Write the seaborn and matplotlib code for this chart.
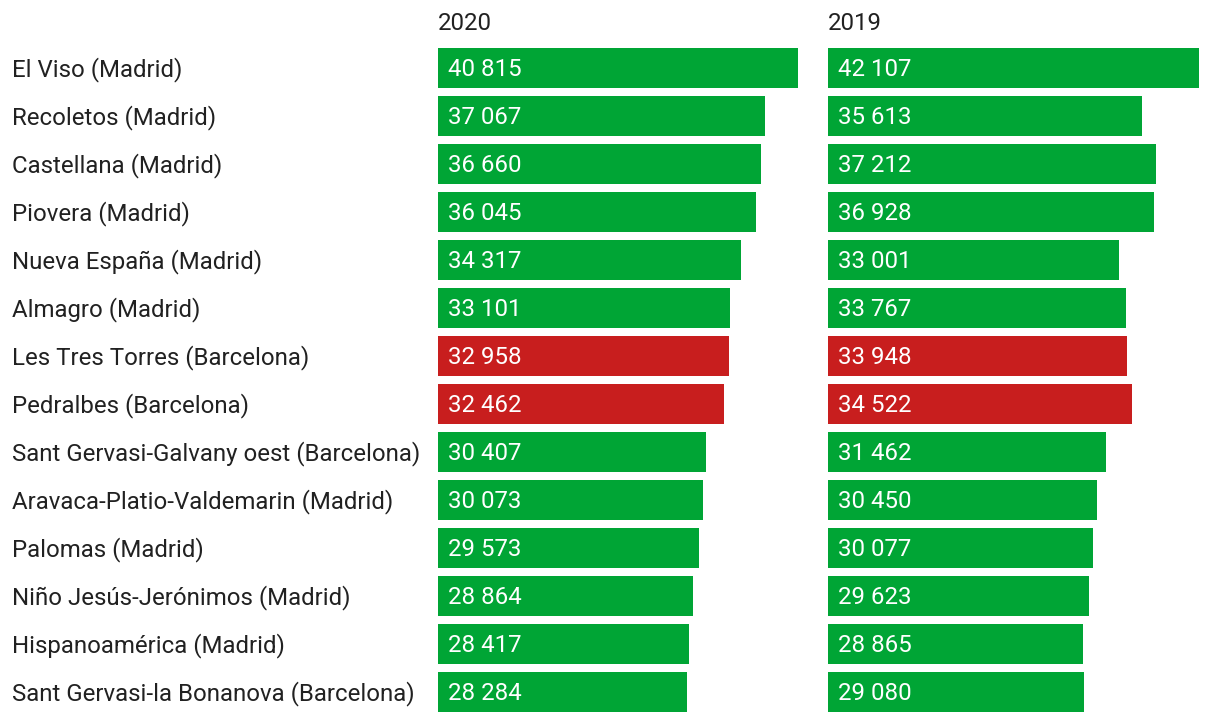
import matplotlib
matplotlib.use("Agg")
import matplotlib.pyplot as plt
import matplotlib.transforms as mtransforms
import pandas as pd
import seaborn as sns

# Datos
BARRIOS = [
    "El Viso (Madrid)",
    "Recoletos (Madrid)",
    "Castellana (Madrid)",
    "Piovera (Madrid)",
    "Nueva España (Madrid)",
    "Almagro (Madrid)",
    "Les Tres Torres (Barcelona)",
    "Pedralbes (Barcelona)",
    "Sant Gervasi-Galvany oest (Barcelona)",
    "Aravaca-Platio-Valdemarin (Madrid)",
    "Palomas (Madrid)",
    "Niño Jesús-Jerónimos (Madrid)",
    "Hispanoamérica (Madrid)",
    "Sant Gervasi-la Bonanova (Barcelona)",
]
VALORES_2020 = [40815, 37067, 36660, 36045, 34317, 33101, 32958, 32462,
                30407, 30073, 29573, 28864, 28417, 28284]
VALORES_2019 = [42107, 35613, 37212, 36928, 33001, 33767, 33948, 34522,
                31462, 30450, 30077, 29623, 28865, 29080]
DESTACADOS = ["Les Tres Torres (Barcelona)", "Pedralbes (Barcelona)"]
ANIOS = ["2020", "2019"]

VERDE = "#00a535"
ROJO = "#c81e1e"
TEXTO = "#212121"

W, H = 1220, 722
TAM = 17.3


def fmt(v):
    return f"{v:,}".replace(",", " ")


def main():
    sns.set_theme(style="white")
    plt.rcParams["font.family"] = ["Roboto", "DejaVu Sans"]

    fig = plt.figure(figsize=(W / 100, H / 100), dpi=100)
    paleta = {b: (ROJO if b in DESTACADOS else VERDE) for b in BARRIOS}

    fila = 48
    top_px = 44
    alto_px = fila * len(BARRIOS)
    ancho_px = 380
    xmax = ancho_px / (360 / 40815)

    ejes = []
    for izq_px, anio, valores in zip([438, 828], ANIOS, [VALORES_2020, VALORES_2019]):
        ax = fig.add_axes([izq_px / W, (H - top_px - alto_px) / H, ancho_px / W, alto_px / H])
        df = pd.DataFrame({"barrio": BARRIOS, "valor": valores})
        sns.barplot(data=df, x="valor", y="barrio", hue="barrio", palette=paleta,
                    legend=False, width=40 / 48, saturation=1, linewidth=0, ax=ax)
        ax.set_xlim(0, xmax)
        ax.set_ylim(len(BARRIOS) - 0.5, -0.5)
        ax.axis("off")

        trans = mtransforms.offset_copy(ax.transData, fig=fig, x=10, y=1, units="dots")
        for i, v in enumerate(valores):
            ax.text(0, i, fmt(v), transform=trans, color="white", fontsize=TAM,
                    ha="left", va="center_baseline")

        fig.text(izq_px / W, 1 - 21 / H, anio, color=TEXTO, fontsize=TAM,
                 ha="left", va="center_baseline")
        ejes.append(ax)

    trans_lbl = mtransforms.offset_copy(
        mtransforms.blended_transform_factory(fig.transFigure, ejes[0].transData),
        fig=fig, x=0, y=1, units="dots")
    for i, b in enumerate(BARRIOS):
        ejes[0].text(12 / W, i, b, transform=trans_lbl, color=TEXTO, fontsize=TAM,
                     ha="left", va="center_baseline")

    fig.savefig("out.png", dpi=100, facecolor="white")
    plt.close(fig)


if __name__ == "__main__":
    main()
